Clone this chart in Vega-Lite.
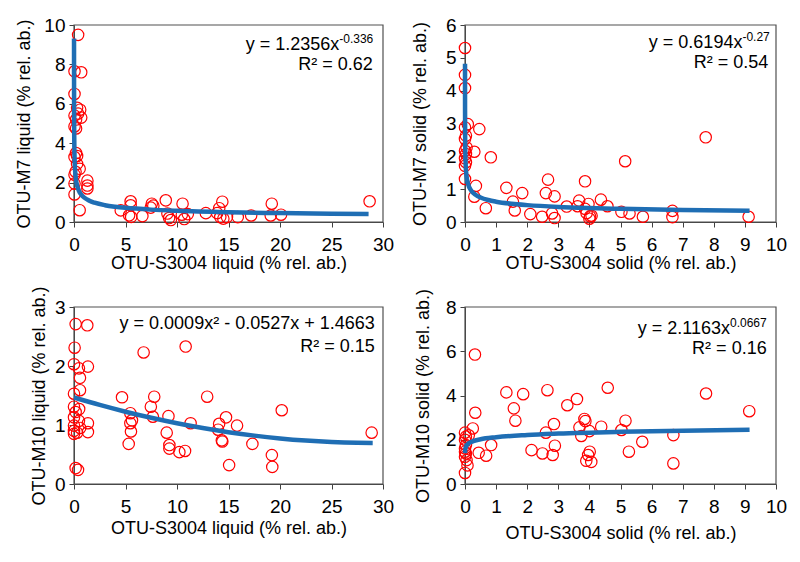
{
  "$schema": "https://vega.github.io/schema/vega-lite/v6.json",
  "padding": {"left": 15, "top": 16, "right": 5, "bottom": 5},
  "background": "white",
  "bounds": "flush",
  "columns": 2,
  "spacing": {"row": 85, "column": 82},
  "align": "each",
  "config": {
    "font": "Liberation Sans",
    "view": {"stroke": null},
    "axis": {
      "labelFont": "Liberation Sans", "titleFont": "Liberation Sans",
      "labelFontSize": 19, "titleFontSize": 18, "titleFontWeight": "normal",
      "labelColor": "#000000", "titleColor": "#000000",
      "domainColor": "#404040", "tickColor": "#404040", "domainWidth": 1, "tickWidth": 1,
      "grid": false, "tickSize": 5, "labelFlush": false, "labelOverlap": false
    },
    "axisX": {"labelPadding": 8, "titlePadding": 2},
    "axisY": {"labelPadding": 4, "titlePadding": 6},
    "text": {"font": "Liberation Sans", "color": "#000000"}
  },
  "datasets": {
    "f1": [{"x":0,"y":0,"o":1},{"x":30,"y":0,"o":2},{"x":30,"y":10,"o":3},{"x":0,"y":10,"o":4},{"x":0,"y":0,"o":5}],
    "f2": [{"x":0,"y":0,"o":1},{"x":10,"y":0,"o":2},{"x":10,"y":6,"o":3},{"x":0,"y":6,"o":4},{"x":0,"y":0,"o":5}],
    "f3": [{"x":0,"y":0,"o":1},{"x":30,"y":0,"o":2},{"x":30,"y":3,"o":3},{"x":0,"y":3,"o":4},{"x":0,"y":0,"o":5}],
    "f4": [{"x":0,"y":0,"o":1},{"x":10,"y":0,"o":2},{"x":10,"y":8,"o":3},{"x":0,"y":8,"o":4},{"x":0,"y":0,"o":5}],
    "p1": [
      {"x":0.4,"y":9.5},{"x":0.05,"y":7.65},{"x":0.7,"y":7.6},{"x":0.05,"y":6.5},{"x":0.3,"y":5.8},{"x":0.6,"y":5.7},{"x":0.4,"y":5.5},{"x":0.05,"y":5.4},{"x":0.7,"y":5.3},{"x":0.2,"y":5.2},{"x":0.05,"y":4.85},{"x":0.2,"y":4.75},{"x":0.2,"y":3.5},{"x":0.3,"y":3.35},{"x":0.05,"y":3.3},{"x":0.3,"y":2.95},{"x":0.55,"y":2.7},{"x":0.15,"y":2.55},{"x":0.05,"y":2.4},{"x":0.05,"y":1.95},{"x":0.05,"y":1.4},{"x":1.3,"y":2.1},{"x":1.3,"y":1.85},{"x":1.3,"y":1.7},{"x":0.55,"y":0.6},
      {"x":4.54,"y":0.59},{"x":5.5,"y":1.05},{"x":5.5,"y":0.85},{"x":5.35,"y":0.34},{"x":5.55,"y":0.26},{"x":6.64,"y":0.3},{"x":7.55,"y":0.93},{"x":7.7,"y":0.83},{"x":7.45,"y":0.73},{"x":8.91,"y":1.1},{"x":9.07,"y":0.43},{"x":9.23,"y":0.2},{"x":9.4,"y":0.1},{"x":10.54,"y":0.93},{"x":10.47,"y":0.37},{"x":10.7,"y":0.15},{"x":11.05,"y":0.4},{"x":12.8,"y":0.45},{"x":14.1,"y":0.7},{"x":14.4,"y":1.03},{"x":13.9,"y":0.45},{"x":14.2,"y":0.25},{"x":14.5,"y":0.17},{"x":14.85,"y":0.25},{"x":15.9,"y":0.25},{"x":17.2,"y":0.33},{"x":19.2,"y":0.93},{"x":19.1,"y":0.33},{"x":20.1,"y":0.37},{"x":28.7,"y":1.05}
    ],
    "c1": [
      {"x":0.0025,"y":9.32},{"x":0.005,"y":7.33},{"x":0.01,"y":5.81},{"x":0.02,"y":4.6},{"x":0.05,"y":3.38},{"x":0.1,"y":2.68},{"x":0.2,"y":2.12},{"x":0.3,"y":1.852},{"x":0.5,"y":1.56},{"x":0.7,"y":1.393},{"x":1,"y":1.236},{"x":1.5,"y":1.078},{"x":2,"y":0.979},{"x":3,"y":0.854},{"x":4,"y":0.776},{"x":5,"y":0.72},{"x":7.5,"y":0.628},{"x":10,"y":0.57},{"x":15,"y":0.497},{"x":20,"y":0.452},{"x":25,"y":0.419},{"x":28.6,"y":0.4}
    ],
    "t1": [
      {"part":"main","x":25.75,"y":8.73,"label":"y = 1.2356x"},
      {"part":"sup","x":25.75,"y":8.73,"label":"-0.336"},
      {"part":"r2","x":29.0,"y":7.71,"label":"R² = 0.62"}
    ],
    "p2": [
      {"x":0,"y":5.3},{"x":0,"y":4.48},{"x":0,"y":4.08},{"x":0.09,"y":2.98},{"x":0,"y":2.88},{"x":0.46,"y":2.83},{"x":0.03,"y":2.63},{"x":0,"y":2.53},{"x":0.05,"y":2.27},{"x":0,"y":2.17},{"x":0.03,"y":2.07},{"x":0,"y":1.94},{"x":0.03,"y":1.82},{"x":0,"y":1.71},{"x":0.3,"y":2.14},{"x":0.83,"y":1.97},{"x":0,"y":1.31},{"x":0.35,"y":1.1},{"x":0.3,"y":0.77},{"x":0.67,"y":0.42},{"x":1.33,"y":1.04},{"x":1.84,"y":0.88},{"x":1.54,"y":0.62},{"x":1.6,"y":0.35},{"x":2.1,"y":0.24},{"x":2.48,"y":0.16},{"x":2.67,"y":1.29},{"x":2.6,"y":0.88},{"x":2.88,"y":0.78},{"x":2.8,"y":0.26},{"x":2.88,"y":0.12},{"x":3.27,"y":0.47},{"x":3.67,"y":0.65},{"x":3.62,"y":0.48},{"x":3.86,"y":1.24},{"x":3.97,"y":0.55},{"x":3.86,"y":0.4},{"x":3.91,"y":0.27},{"x":4.02,"y":0.17},{"x":4.0,"y":0.1},{"x":4.07,"y":0.19},{"x":4.37,"y":0.68},{"x":4.58,"y":0.48},{"x":5.03,"y":0.31},{"x":5.15,"y":1.85},{"x":5.29,"y":0.26},{"x":5.72,"y":0.16},{"x":6.67,"y":0.34},{"x":6.67,"y":0.15},{"x":7.74,"y":2.58},{"x":9.12,"y":0.16}
    ],
    "c2": [
      {"x":0.0005,"y":4.82},{"x":0.001,"y":4.0},{"x":0.002,"y":3.317},{"x":0.005,"y":2.59},{"x":0.01,"y":2.147},{"x":0.02,"y":1.781},{"x":0.05,"y":1.391},{"x":0.1,"y":1.153},{"x":0.2,"y":0.956},{"x":0.35,"y":0.822},{"x":0.5,"y":0.747},{"x":0.75,"y":0.669},{"x":1,"y":0.619},{"x":1.5,"y":0.555},{"x":2,"y":0.514},{"x":3,"y":0.46},{"x":4,"y":0.426},{"x":5,"y":0.401},{"x":7,"y":0.366},{"x":9.15,"y":0.341}
    ],
    "t2": [
      {"part":"main","x":8.92,"y":5.29,"label":"y = 0.6194x"},
      {"part":"sup","x":8.92,"y":5.29,"label":"-0.27"},
      {"part":"r2","x":9.75,"y":4.68,"label":"R² = 0.54"}
    ],
    "p3": [
      {"x":0.16,"y":2.71},{"x":1.29,"y":2.69},{"x":0.06,"y":2.31},{"x":6.76,"y":2.23},{"x":10.84,"y":2.33},{"x":0.0,"y":2.03},{"x":0.48,"y":1.96},{"x":1.35,"y":1.99},{"x":0.58,"y":1.8},{"x":0.58,"y":1.59},{"x":0.0,"y":1.53},{"x":4.66,"y":1.47},{"x":7.79,"y":1.48},{"x":12.93,"y":1.48},{"x":7.46,"y":1.31},{"x":7.66,"y":1.14},{"x":5.47,"y":1.2},{"x":5.63,"y":1.08},{"x":5.47,"y":1.03},{"x":5.53,"y":0.89},{"x":5.31,"y":0.68},{"x":9.17,"y":1.15},{"x":9.0,"y":0.87},{"x":9.26,"y":0.66},{"x":9.26,"y":0.6},{"x":10.23,"y":0.54},{"x":10.78,"y":0.56},{"x":11.32,"y":1.03},{"x":14.09,"y":1.02},{"x":13.99,"y":0.92},{"x":14.76,"y":1.13},{"x":14.35,"y":0.74},{"x":14.4,"y":0.72},{"x":15.83,"y":0.99},{"x":17.32,"y":0.68},{"x":15.06,"y":0.32},{"x":19.21,"y":0.49},{"x":19.25,"y":0.29},{"x":20.17,"y":1.25},{"x":28.9,"y":0.87},
      {"x":0.0,"y":1.31},{"x":0.16,"y":1.22},{"x":0.5,"y":1.27},{"x":0.0,"y":1.13},{"x":0.48,"y":1.07},{"x":0.0,"y":0.9},{"x":0.3,"y":0.87},{"x":0.0,"y":0.85},{"x":0.6,"y":0.95},{"x":1.35,"y":1.03},{"x":1.35,"y":0.88},{"x":0.16,"y":0.27},{"x":0.39,"y":0.24},{"x":0.0,"y":0.99}
    ],
    "c3": [
      {"x":0,"y":1.4663},{"x":2.5,"y":1.3402},{"x":5,"y":1.2253},{"x":7.5,"y":1.1217},{"x":10,"y":1.0293},{"x":12.5,"y":0.9482},{"x":15,"y":0.8783},{"x":17.5,"y":0.8197},{"x":20,"y":0.7723},{"x":22.5,"y":0.7362},{"x":25,"y":0.7113},{"x":27.5,"y":0.6977},{"x":29,"y":0.6949}
    ],
    "t3": [
      {"part":"main","x":29.2,"y":2.62,"label":"y = 0.0009x² - 0.0527x + 1.4663"},
      {"part":"r2","x":29.2,"y":2.24,"label":"R² = 0.15"}
    ],
    "p4": [
      {"x":0.32,"y":5.85},{"x":1.33,"y":4.14},{"x":1.87,"y":4.06},{"x":2.65,"y":4.24},{"x":4.59,"y":4.35},{"x":7.75,"y":4.09},{"x":1.57,"y":3.42},{"x":1.62,"y":2.86},{"x":0.33,"y":3.22},{"x":3.29,"y":3.56},{"x":3.6,"y":3.84},{"x":9.14,"y":3.29},{"x":0.25,"y":2.51},{"x":2.86,"y":2.71},{"x":2.6,"y":2.32},{"x":3.84,"y":2.94},{"x":3.87,"y":2.84},{"x":3.68,"y":2.56},{"x":3.74,"y":2.17},{"x":4.0,"y":2.39},{"x":4.38,"y":2.59},{"x":5.16,"y":2.86},{"x":5.03,"y":2.44},{"x":6.7,"y":2.21},{"x":5.7,"y":1.91},{"x":5.27,"y":1.46},{"x":6.7,"y":0.93},{"x":0.84,"y":1.76},{"x":0.44,"y":1.41},{"x":0.68,"y":1.28},{"x":2.14,"y":1.53},{"x":2.49,"y":1.38},{"x":2.82,"y":1.31},{"x":2.89,"y":1.73},{"x":4.01,"y":1.46},{"x":3.96,"y":1.31},{"x":3.9,"y":1.05},{"x":4.06,"y":1.0},
      {"x":0.0,"y":2.32},{"x":0.03,"y":2.14},{"x":0.0,"y":2.0},{"x":0.03,"y":1.76},{"x":0.0,"y":1.61},{"x":0.03,"y":1.38},{"x":0.0,"y":1.23},{"x":0.05,"y":1.08},{"x":0.08,"y":0.84},{"x":0.0,"y":0.5},{"x":0.12,"y":2.2},{"x":0.0,"y":1.46}
    ],
    "c4": [
      {"x":0.002,"y":1.398},{"x":0.005,"y":1.486},{"x":0.01,"y":1.557},{"x":0.02,"y":1.63},{"x":0.05,"y":1.733},{"x":0.1,"y":1.815},{"x":0.2,"y":1.901},{"x":0.5,"y":2.021},{"x":1,"y":2.116},{"x":2,"y":2.216},{"x":3,"y":2.277},{"x":5,"y":2.356},{"x":7,"y":2.41},{"x":9.15,"y":2.453}
    ],
    "t4": [
      {"part":"main","x":8.52,"y":6.8,"label":"y = 2.1163x"},
      {"part":"sup","x":8.52,"y":6.8,"label":"0.0667"},
      {"part":"r2","x":9.7,"y":5.87,"label":"R² = 0.16"}
    ]
  },
  "concat": [
    {
      "width": 309, "height": 197,
      "encoding": {
        "x": {"field": "x", "type": "quantitative", "scale": {"domain": [0, 30], "nice": false}, "axis": {"values": [0,5,10,15,20,25,30], "title": "OTU-S3004 liquid (% rel. ab.)", "titlePadding": 0}},
        "y": {"field": "y", "type": "quantitative", "scale": {"domain": [0, 10], "nice": false}, "axis": {"values": [0,2,4,6,8,10], "title": "OTU-M7 liquid (% rel. ab.)", "titlePadding": 10}}
      },
      "layer": [
        {"data": {"name": "f1"}, "mark": {"type": "line", "color": "#505050", "strokeWidth": 1.2, "interpolate": "linear"}, "encoding": {"order": {"field": "o", "type": "quantitative"}}},
        {"data": {"name": "p1"}, "mark": {"type": "point", "shape": "circle", "filled": false, "color": "#ff0000", "size": 130, "strokeWidth": 1.2, "opacity": 1}},
        {"data": {"name": "c1"}, "mark": {"type": "line", "color": "#1f6eb4", "strokeWidth": 4.5, "interpolate": "monotone"}},
        {"data": {"name": "t1"}, "transform": [{"filter": "datum.part == 'main'"}], "mark": {"type": "text", "align": "right", "baseline": "alphabetic", "fontSize": 18}, "encoding": {"text": {"field": "label"}}},
        {"data": {"name": "t1"}, "transform": [{"filter": "datum.part == 'sup'"}], "mark": {"type": "text", "align": "left", "baseline": "alphabetic", "fontSize": 12, "dy": -7}, "encoding": {"text": {"field": "label"}}},
        {"data": {"name": "t1"}, "transform": [{"filter": "datum.part == 'r2'"}], "mark": {"type": "text", "align": "right", "baseline": "alphabetic", "fontSize": 18}, "encoding": {"text": {"field": "label"}}}
      ]
    },
    {
      "width": 311, "height": 197,
      "encoding": {
        "x": {"field": "x", "type": "quantitative", "scale": {"domain": [0, 10], "nice": false}, "axis": {"values": [0,1,2,3,4,5,6,7,8,9,10], "title": "OTU-S3004 solid (% rel. ab.)", "titlePadding": 0}},
        "y": {"field": "y", "type": "quantitative", "scale": {"domain": [0, 6], "nice": false}, "axis": {"values": [0,1,2,3,4,5,6], "title": "OTU-M7 solid (% rel. ab.)", "titlePadding": 16}}
      },
      "layer": [
        {"data": {"name": "f2"}, "mark": {"type": "line", "color": "#505050", "strokeWidth": 1.2, "interpolate": "linear"}, "encoding": {"order": {"field": "o", "type": "quantitative"}}},
        {"data": {"name": "p2"}, "mark": {"type": "point", "shape": "circle", "filled": false, "color": "#ff0000", "size": 130, "strokeWidth": 1.2, "opacity": 1}},
        {"data": {"name": "c2"}, "mark": {"type": "line", "color": "#1f6eb4", "strokeWidth": 4.5, "interpolate": "monotone"}},
        {"data": {"name": "t2"}, "transform": [{"filter": "datum.part == 'main'"}], "mark": {"type": "text", "align": "right", "baseline": "alphabetic", "fontSize": 18}, "encoding": {"text": {"field": "label"}}},
        {"data": {"name": "t2"}, "transform": [{"filter": "datum.part == 'sup'"}], "mark": {"type": "text", "align": "left", "baseline": "alphabetic", "fontSize": 12, "dy": -7}, "encoding": {"text": {"field": "label"}}},
        {"data": {"name": "t2"}, "transform": [{"filter": "datum.part == 'r2'"}], "mark": {"type": "text", "align": "right", "baseline": "alphabetic", "fontSize": 18}, "encoding": {"text": {"field": "label"}}}
      ]
    },
    {
      "width": 309, "height": 177,
      "encoding": {
        "x": {"field": "x", "type": "quantitative", "scale": {"domain": [0, 30], "nice": false}, "axis": {"values": [0,5,10,15,20,25,30], "title": "OTU-S3004 liquid (% rel. ab.)", "titlePadding": 3}},
        "y": {"field": "y", "type": "quantitative", "scale": {"domain": [0, 3], "nice": false}, "axis": {"values": [0,1,2,3], "title": "OTU-M10 liquid (% rel. ab.)", "titlePadding": 6}}
      },
      "layer": [
        {"data": {"name": "f3"}, "mark": {"type": "line", "color": "#505050", "strokeWidth": 1.2, "interpolate": "linear"}, "encoding": {"order": {"field": "o", "type": "quantitative"}}},
        {"data": {"name": "p3"}, "mark": {"type": "point", "shape": "circle", "filled": false, "color": "#ff0000", "size": 130, "strokeWidth": 1.2, "opacity": 1}},
        {"data": {"name": "c3"}, "mark": {"type": "line", "color": "#1f6eb4", "strokeWidth": 4.5, "interpolate": "monotone"}},
        {"data": {"name": "t3"}, "transform": [{"filter": "datum.part == 'main'"}], "mark": {"type": "text", "align": "right", "baseline": "alphabetic", "fontSize": 18}, "encoding": {"text": {"field": "label"}}},
        {"data": {"name": "t3"}, "transform": [{"filter": "datum.part == 'r2'"}], "mark": {"type": "text", "align": "right", "baseline": "alphabetic", "fontSize": 18}, "encoding": {"text": {"field": "label"}}}
      ]
    },
    {
      "width": 311, "height": 177,
      "encoding": {
        "x": {"field": "x", "type": "quantitative", "scale": {"domain": [0, 10], "nice": false}, "axis": {"values": [0,1,2,3,4,5,6,7,8,9,10], "title": "OTU-S3004 solid (% rel. ab.)", "titlePadding": 8}},
        "y": {"field": "y", "type": "quantitative", "scale": {"domain": [0, 8], "nice": false}, "axis": {"values": [0,2,4,6,8], "title": "OTU-M10 solid (% rel. ab.)", "titlePadding": 13}}
      },
      "layer": [
        {"data": {"name": "f4"}, "mark": {"type": "line", "color": "#505050", "strokeWidth": 1.2, "interpolate": "linear"}, "encoding": {"order": {"field": "o", "type": "quantitative"}}},
        {"data": {"name": "p4"}, "mark": {"type": "point", "shape": "circle", "filled": false, "color": "#ff0000", "size": 130, "strokeWidth": 1.2, "opacity": 1}},
        {"data": {"name": "c4"}, "mark": {"type": "line", "color": "#1f6eb4", "strokeWidth": 4.5, "interpolate": "monotone"}},
        {"data": {"name": "t4"}, "transform": [{"filter": "datum.part == 'main'"}], "mark": {"type": "text", "align": "right", "baseline": "alphabetic", "fontSize": 18}, "encoding": {"text": {"field": "label"}}},
        {"data": {"name": "t4"}, "transform": [{"filter": "datum.part == 'sup'"}], "mark": {"type": "text", "align": "left", "baseline": "alphabetic", "fontSize": 12, "dy": -7}, "encoding": {"text": {"field": "label"}}},
        {"data": {"name": "t4"}, "transform": [{"filter": "datum.part == 'r2'"}], "mark": {"type": "text", "align": "right", "baseline": "alphabetic", "fontSize": 18}, "encoding": {"text": {"field": "label"}}}
      ]
    }
  ]
}
